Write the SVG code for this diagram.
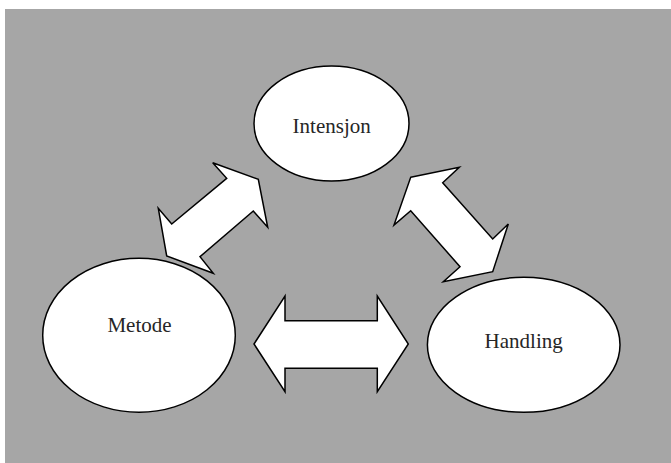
<svg xmlns="http://www.w3.org/2000/svg" width="671" height="463" viewBox="0 0 671 463">
  <style>
    .node ellipse { fill: #ffffff; stroke: #000000; stroke-width: 1.5; }
    .node text { font-family: "Liberation Serif", "Times New Roman", serif; font-size: 21px; fill: #262626; text-anchor: middle; }
    .arrow { fill: #ffffff; stroke: #000000; stroke-width: 1.5; stroke-linejoin: miter; }
  </style>
  <rect x="5" y="9" width="666" height="454" fill="#a6a6a6"/>

  <g id="connectors">
    <polygon class="arrow" points="212.7,162.7 258.3,179.3 267.7,227.3 253.3,211 200,256.7 213.3,273.3 166.7,256 158.3,208.3 171.7,224 226.7,178.3"/>
    <polygon class="arrow" points="410.7,177.3 459.3,167.3 442.7,182.7 492.7,239 508.3,224 492.7,271.7 443.3,281.7 460,266.7 410.7,210.7 394,225"/>
    <polygon class="arrow" points="254,344 285,296 285,320.7 377.3,320.7 377.3,296 408.3,344 377.3,391.7 377.3,368.3 285,368.3 285,391.7"/>
  </g>

  <g id="intensjon" class="node">
    <ellipse cx="331.5" cy="123.5" rx="77.5" ry="57.5"/>
    <text x="331.7" y="133">Intensjon</text>
  </g>

  <g id="metode" class="node">
    <ellipse cx="139" cy="335.3" rx="96.3" ry="77"/>
    <text x="139.5" y="331.7">Metode</text>
  </g>

  <g id="handling" class="node">
    <ellipse cx="523.7" cy="344.8" rx="96.3" ry="67.5"/>
    <text x="523.7" y="348.3">Handling</text>
  </g>
</svg>
